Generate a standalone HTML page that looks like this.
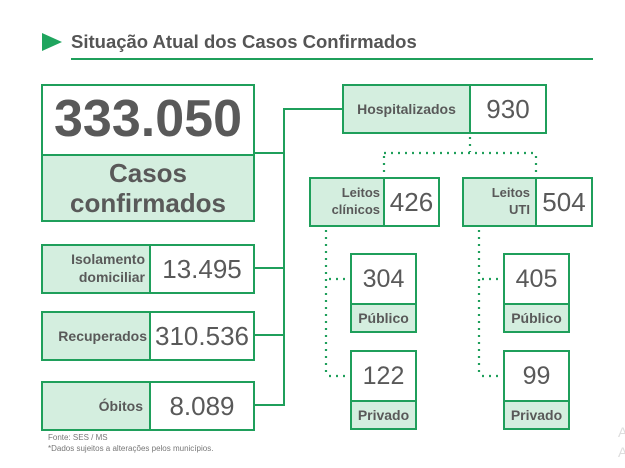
<!DOCTYPE html>
<html><head><meta charset="utf-8"><style>
body{margin:0;width:625px;height:468px;background:#fff;position:relative;overflow:hidden;font-family:"Liberation Sans",sans-serif;color:#595959}
.a{position:absolute;box-sizing:border-box}
.b{border:2px solid #1f9f5b}
.m{background:#d4eedf}
.t{display:flex;align-items:center;justify-content:center;text-align:center}
.l{background:#1f9f5b;position:absolute}
.bold{font-weight:bold}
.s{box-sizing:border-box}
</style></head><body>
<div class="a" style="left:42px;top:33px;width:0;height:0;border-left:20px solid #1fa55e;border-top:9px solid transparent;border-bottom:9px solid transparent"></div>
<div class="a bold" style="left:71px;top:31px;font-size:18.5px;color:#555">Situação Atual dos Casos Confirmados</div>
<div class="l" style="left:71px;top:58px;width:522px;height:2px"></div>

<div class="a b" style="left:41px;top:84px;width:214px;height:138px"></div>
<div class="a t bold" style="left:41px;top:84px;width:214px;height:70px;font-size:52px">333.050</div>
<div class="a m t bold" style="left:43px;top:154px;width:210px;height:66px;border-top:2px solid #1f9f5b;font-size:26px;line-height:30px">Casos<br>confirmados</div>

<div class="l" style="left:255px;top:152px;width:29px;height:2px"></div>
<div class="l" style="left:283px;top:108px;width:2px;height:298px"></div>
<div class="l" style="left:283px;top:108px;width:60px;height:2px"></div>
<div class="l" style="left:255px;top:267px;width:29px;height:2px"></div>
<div class="l" style="left:255px;top:334px;width:29px;height:2px"></div>
<div class="l" style="left:255px;top:404px;width:29px;height:2px"></div>

<div class="a b" style="left:41px;top:244px;width:214px;height:50px;display:flex">
 <div class="m bold" style="width:108px;border-right:2px solid #1f9f5b;text-align:right;font-size:14px;line-height:18px;padding:4px 4px 0 0;box-sizing:border-box">Isolamento<br>domiciliar</div>
 <div class="t" style="flex:1;font-size:26px">13.495</div></div>
<div class="a b" style="left:41px;top:311px;width:214px;height:50px;display:flex">
 <div class="m bold t" style="width:108px;border-right:2px solid #1f9f5b;font-size:14px;justify-content:flex-end;padding-right:2px;box-sizing:border-box">Recuperados</div>
 <div class="t" style="flex:1;font-size:26px">310.536</div></div>
<div class="a b" style="left:41px;top:381px;width:214px;height:50px;display:flex">
 <div class="m bold t" style="width:108px;border-right:2px solid #1f9f5b;font-size:14px;justify-content:flex-end;padding-right:6px;box-sizing:border-box">Óbitos</div>
 <div class="t" style="flex:1;font-size:26px">8.089</div></div>

<div class="a" style="left:48px;top:433px;font-size:8px;color:#777">Fonte: SES / MS</div>
<div class="a" style="left:48px;top:444px;font-size:8px;color:#777">*Dados sujeitos a alterações pelos municípios.</div>
<div class="a" style="left:618px;top:424px;font-size:14px;color:#ddd">A</div>
<div class="a" style="left:618px;top:444px;font-size:14px;color:#ddd">A</div>

<div class="a b" style="left:342px;top:84px;width:205px;height:50px;display:flex">
 <div class="m bold t" style="width:125px;border-right:2px solid #1f9f5b;font-size:14px">Hospitalizados</div>
 <div class="t" style="flex:1;font-size:26px">930</div></div>

<svg class="a" style="left:0;top:0" width="625" height="468">
<g stroke="#1f9f5b" stroke-width="2.2" stroke-dasharray="2 5" fill="none">
<path d="M470 137V152M384 153H536M384 156V177M536 156V177"/>
<path d="M326 230V377M329 279H350M329 376H350"/>
<path d="M479 230V377M482 279H503M482 376H503"/>
</g></svg>

<div class="a b" style="left:309px;top:177px;width:131px;height:50px;display:flex">
 <div class="m bold" style="width:74px;border-right:2px solid #1f9f5b;text-align:right;font-size:13px;line-height:17px;padding:5px 3px 0 0;box-sizing:border-box">Leitos<br>clínicos</div>
 <div class="t" style="flex:1;font-size:26px">426</div></div>
<div class="a b" style="left:462px;top:177px;width:131px;height:50px;display:flex">
 <div class="m bold" style="width:73px;border-right:2px solid #1f9f5b;text-align:right;font-size:13px;line-height:17px;padding:5px 5px 0 0;box-sizing:border-box">Leitos<br>UTI</div>
 <div class="t" style="flex:1;font-size:26px">504</div></div>

<div class="a b" style="left:350px;top:253px;width:67px;height:80px">
 <div class="t" style="height:48px;font-size:25px">304</div>
 <div class="m bold t s" style="height:28px;border-top:2px solid #1f9f5b;font-size:14px">Público</div></div>
<div class="a b" style="left:350px;top:350px;width:67px;height:80px">
 <div class="t" style="height:48px;font-size:25px">122</div>
 <div class="m bold t s" style="height:28px;border-top:2px solid #1f9f5b;font-size:14px">Privado</div></div>
<div class="a b" style="left:503px;top:253px;width:67px;height:80px">
 <div class="t" style="height:48px;font-size:25px">405</div>
 <div class="m bold t s" style="height:28px;border-top:2px solid #1f9f5b;font-size:14px">Público</div></div>
<div class="a b" style="left:503px;top:350px;width:67px;height:80px">
 <div class="t" style="height:48px;font-size:25px">99</div>
 <div class="m bold t s" style="height:28px;border-top:2px solid #1f9f5b;font-size:14px">Privado</div></div>
</body></html>
